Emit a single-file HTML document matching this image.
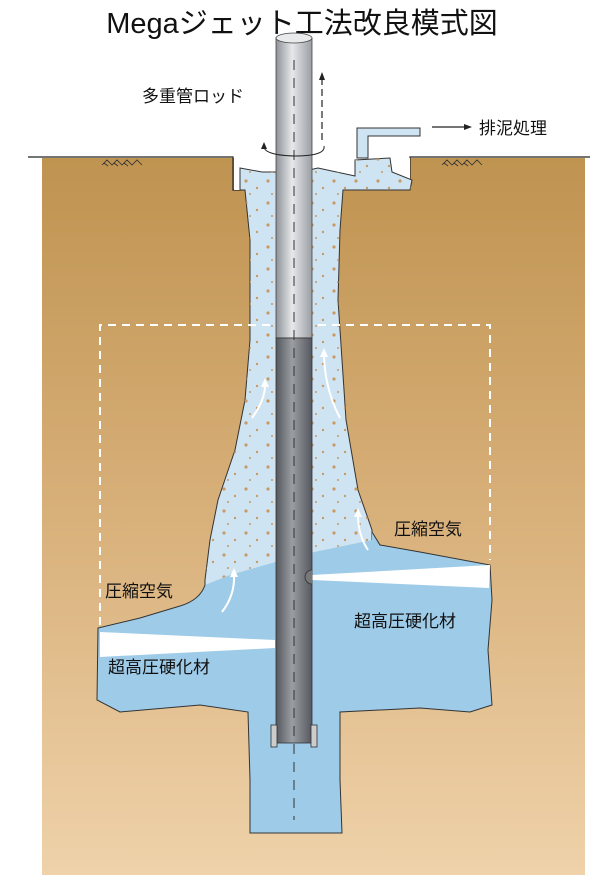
<!DOCTYPE html>
<html><head><meta charset="utf-8"><style>
html,body{margin:0;padding:0;background:#fff;width:600px;height:883px;overflow:hidden}
svg text{font-family:"Liberation Sans","Noto Sans CJK JP",sans-serif}
</style></head><body>
<svg width="600" height="883" viewBox="0 0 600 883" xmlns="http://www.w3.org/2000/svg">
<defs>
<linearGradient id="soil" x1="0" y1="0" x2="0" y2="1">
<stop offset="0" stop-color="#bf9350"/><stop offset="0.5" stop-color="#d8b07a"/><stop offset="1" stop-color="#efd2aa"/>
</linearGradient>
<linearGradient id="rodL" x1="0" y1="0" x2="1" y2="0">
<stop offset="0" stop-color="#8e9298"/><stop offset="0.45" stop-color="#e6e8ea"/><stop offset="1" stop-color="#9a9ea4"/>
</linearGradient>
<linearGradient id="rodD" x1="0" y1="0" x2="1" y2="0">
<stop offset="0" stop-color="#55585e"/><stop offset="0.45" stop-color="#9a9da2"/><stop offset="1" stop-color="#55585e"/>
</linearGradient>
<pattern id="dots" width="22" height="22" patternUnits="userSpaceOnUse">
<circle cx="4" cy="5" r="1.6" fill="#c89b66"/><circle cx="15" cy="12" r="1.2" fill="#c89b66"/><circle cx="8" cy="18" r="1" fill="#c89b66"/>
</pattern>
</defs>
<rect x="42" y="158" width="543" height="717" fill="url(#soil)"/>
<path d="M28 157 H233 V190 H242 M410 190 V157 H590" stroke="#222" stroke-width="1.2" fill="none"/>
<rect x="234" y="158" width="176" height="32" fill="#fff"/>
<g stroke="#333" stroke-width="0.8" fill="none">
<path d="M102 165 l5 -5 l5 5 l5 -5 l5 5 l5 -5 l5 5 l5 -5 l5 5 M104 163 l4 3 M114 163 l4 3 M124 163 l4 3"/>
<path d="M442 165 l5 -5 l5 5 l5 -5 l5 5 l5 -5 l5 5 l5 -5 l5 5 M444 163 l4 3 M454 163 l4 3 M464 163 l4 3"/>
</g>
<path d="M240 168 L262 172 L300 172 L318 168 L355 176 L355 160 L390 158 L392 172 L412 180 L410 190 L343 190 L340 230 L338 300 L342 360 L346 420 L358 490 L372 530 L372 600 L205 620 L205 580 L210 540 L218 500 L235 450 L245 400 L250 340 L250 240 L245 190 L240 190 Z" fill="#cfe4f2" stroke="#333" stroke-width="1"/>
<path d="M240 168 L262 172 L300 172 L318 168 L355 176 L355 160 L390 158 L392 172 L412 180 L410 190 L343 190 L340 230 L338 300 L342 360 L346 420 L358 490 L372 530 L372 600 L205 620 L205 580 L210 540 L218 500 L235 450 L245 400 L250 340 L250 240 L245 190 L240 190 Z" fill="url(#dots)"/>
<path d="M357 158 V128 H420 V136 H368 V158 Z" fill="#cfe4f2" stroke="#333" stroke-width="1"/>
<path d="M205 585 Q200 600 180 606 L140 618 L98 628 L97 700 L120 712 L200 705 L248 712 L250 780 L250 833 L342 833 L340 780 L340 712 L420 708 L470 712 L492 705 L488 650 L492 600 L490 565 L420 552 L380 545 L372 532 L372 540 L300 555 L230 575 Z" fill="#9ecbe8" stroke="none"/>
<path d="M205 585 Q200 600 180 606 L140 618 L98 628 L97 700 L120 712 L200 705 L248 712 L250 780 L250 833 L342 833 L340 780 L340 712 L420 708 L470 712 L492 705 L488 650 L492 600 L490 565 L420 552 L380 545 L372 532" fill="none" stroke="#333" stroke-width="1"/>
<path d="M100 632 L275 640 L275 648 L100 657 Z" fill="#fff"/>
<path d="M312 575 L490 565 L489 588 L312 580 Z" fill="#fff"/>
<path d="M100 625 V325 H490 V560" stroke="#fff" stroke-width="2" stroke-dasharray="8 6" fill="none"/>
<rect x="276" y="38" width="36" height="300" fill="url(#rodL)" stroke="#444" stroke-width="0.8"/>
<ellipse cx="294" cy="38" rx="18" ry="5" fill="#e8eaec" stroke="#444" stroke-width="0.8"/>
<rect x="276" y="338" width="36" height="405" fill="url(#rodD)" stroke="#333" stroke-width="0.8"/>
<rect x="271" y="725" width="6" height="22" fill="#ccc" stroke="#333" stroke-width="0.8"/>
<rect x="311" y="725" width="6" height="22" fill="#ccc" stroke="#333" stroke-width="0.8"/>
<path d="M294 60 V820" stroke="#333" stroke-width="1" stroke-dasharray="10 8"/>
<path d="M312 570 a7 7 0 0 0 0 14" fill="#777" stroke="#333" stroke-width="0.8"/>
<path d="M264 145 Q262 155 294 156 Q326 156 324 146" stroke="#222" stroke-width="1" fill="none"/>
<path d="M264 142 l-3 7 h6 z" fill="#222"/>
<path d="M322 140 V78" stroke="#222" stroke-width="1.2" stroke-dasharray="7 4"/>
<path d="M322 72 l-3 8 h6 z" fill="#222"/>
<g stroke="#fff" stroke-width="2" fill="none">
<path d="M252 418 Q265 400 265 385"/><path d="M340 418 Q325 390 324 355"/>
<path d="M222 612 Q235 595 234 575"/><path d="M368 550 Q358 535 358 515"/>
</g>
<g fill="#fff">
<path d="M265 378 l-4 9 h8z"/><path d="M324 348 l-4 9 h8z"/><path d="M234 568 l-4 9 h8z"/><path d="M358 508 l-4 9 h8z"/>
</g>
<path d="M432 127 H465" stroke="#222" stroke-width="1.2"/>
<path d="M472 127 l-8 -3 v6 z" fill="#222"/>
<text x="302" y="33" font-size="29" text-anchor="middle" fill="#111">Megaジェット工法改良模式図</text>
<text x="142" y="102" font-size="17" fill="#111">多重管ロッド</text>
<text x="479" y="134" font-size="17" fill="#111">排泥処理</text>
<text x="394" y="535" font-size="17" fill="#111">圧縮空気</text>
<text x="105" y="597" font-size="17" fill="#111">圧縮空気</text>
<text x="354" y="627" font-size="17" fill="#111">超高圧硬化材</text>
<text x="108" y="673" font-size="17" fill="#111">超高圧硬化材</text>
</svg>
</body></html>
